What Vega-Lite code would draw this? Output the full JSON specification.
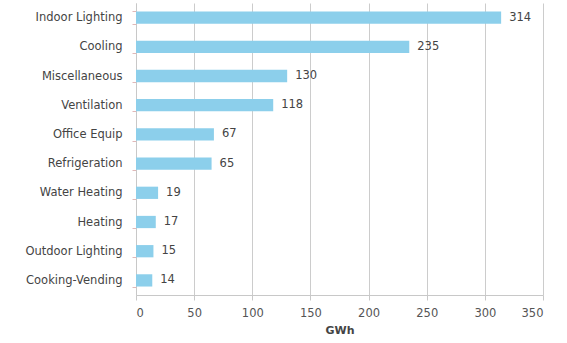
{
  "$schema": "https://vega.github.io/schema/vega-lite/v6.json",
  "autosize": "none",
  "width": 407,
  "height": 292,
  "padding": {"left": 136, "top": 3, "right": 24, "bottom": 48},
  "background": "white",
  "data": {"values": [
    {"category": "Indoor Lighting", "gwh": 314},
    {"category": "Cooling", "gwh": 235},
    {"category": "Miscellaneous", "gwh": 130},
    {"category": "Ventilation", "gwh": 118},
    {"category": "Office Equip", "gwh": 67},
    {"category": "Refrigeration", "gwh": 65},
    {"category": "Water Heating", "gwh": 19},
    {"category": "Heating", "gwh": 17},
    {"category": "Outdoor Lighting", "gwh": 15},
    {"category": "Cooking-Vending", "gwh": 14}
  ]},
  "config": {
    "view": {"stroke": null},
    "font": "DejaVu Sans"
  },
  "encoding": {
    "y": {
      "field": "category", "type": "nominal", "sort": null, "title": null,
      "scale": {"paddingInner": 0.58, "paddingOuter": 0.29},
      "axis": {
        "tickBand": "extent", "tickColor": "#e0b8b8", "tickSize": 4,
        "domainColor": "#c8c8c8", "labelFontSize": 11.5, "labelColor": "#444444",
        "labelPadding": 10
      }
    },
    "x": {
      "field": "gwh", "type": "quantitative", "title": "GWh",
      "scale": {"domain": [0, 350], "nice": false},
      "axis": {
        "values": [0, 50, 100, 150, 200, 250, 300, 350],
        "gridColor": "#cccccc", "domainColor": "#c8c8c8", "tickColor": "#c8c8c8",
        "tickSize": 5, "labelFontSize": 11.5, "labelColor": "#555555", "labelPadding": 7,
        "titleFontSize": 11, "titleFontWeight": "bold", "titleColor": "#444444",
        "titlePadding": 6
      }
    }
  },
  "layer": [
    {"mark": {"type": "bar", "color": "#8ccfeb"}},
    {"mark": {"type": "text", "align": "left", "dx": 8, "fontSize": 11.5, "color": "#444444"},
     "encoding": {"text": {"field": "gwh", "type": "quantitative"}}}
  ]
}
